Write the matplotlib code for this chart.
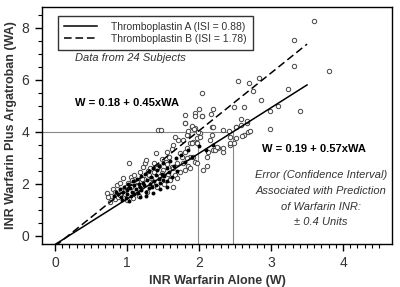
import numpy as np
import matplotlib.pyplot as plt
from matplotlib.ticker import FixedLocator

plt.rcParams.update({'font.family': ['Liberation Sans Narrow', 'Liberation Sans', 'DejaVu Sans']})

# --- DATA: W = warfarin alone, WA = warfarin + argatroban ---
open_w = [0.72, 0.76, 0.78, 0.80, 0.84, 0.86, 0.88, 0.90, 0.92, 0.95, 0.97, 1.00, 1.01, 1.03,
          1.05, 1.06, 1.08, 1.10, 1.12, 1.14, 1.16, 1.18, 1.20, 1.22, 1.24, 1.25, 1.27, 1.28,
          1.30, 1.32, 1.35, 1.37, 1.38, 1.40, 1.42, 1.44, 1.46, 1.48, 1.50, 1.52, 1.54, 1.55,
          1.57, 1.58, 1.60, 1.62, 1.63, 1.43, 1.47,
          1.64, 1.71, 1.78, 1.88, 1.92, 1.97, 2.01, 1.67, 1.85, 1.74, 1.81, 1.83, 1.76, 1.88,
          1.92, 1.94, 1.97, 1.85, 1.81, 1.74, 1.69, 1.64, 1.67, 1.60, 1.64, 1.69, 2.11, 2.06,
          2.13, 2.20, 2.34, 2.43, 2.48, 2.27,
          1.81, 1.83, 1.90, 1.94, 1.99, 2.01, 2.18, 2.18, 2.15, 2.34, 2.41, 2.52, 2.59, 2.66,
          2.62, 2.68, 2.51, 2.43, 2.34, 2.22, 2.25, 2.11, 1.88, 1.83, 1.78, 1.90, 1.97, 1.81,
          1.94, 2.04,
          2.04, 2.00, 2.20, 2.17, 1.94, 2.04, 1.81, 1.90, 1.93, 2.19, 1.85,
          3.59, 3.32, 3.32, 3.80, 2.54, 2.69, 2.83, 2.75, 3.24, 2.86, 2.49, 2.62, 3.10, 2.98,
          3.40, 2.59, 2.67, 2.52, 2.98, 2.71, 2.60, 2.43,
          0.74, 0.83, 0.91, 0.99, 1.07, 1.13, 1.21, 1.29, 1.34, 1.41, 1.49, 1.56]
open_wa = [1.65, 1.32, 1.55, 1.80, 1.42, 1.95, 1.50, 2.05, 1.75, 2.22, 1.60, 1.38, 2.05, 2.82,
           1.90, 2.25, 1.45, 2.35, 1.70, 2.10, 1.55, 2.45, 1.95, 2.65, 2.20, 2.79, 2.92, 1.70,
           2.35, 2.60, 2.05, 2.82, 2.45, 3.18, 1.90, 2.70, 2.30, 2.95, 2.55, 2.00, 2.85, 3.24,
           2.40, 3.05, 2.20, 2.65, 3.35, 4.06, 4.06,
           3.50, 3.69, 3.69, 3.56, 3.63, 3.76, 3.95, 3.82, 3.88, 3.18, 3.24, 3.37, 3.05, 3.05,
           3.05, 2.86, 2.80, 2.67, 2.54, 2.47, 2.80, 2.60, 2.35, 2.15, 1.90, 2.22, 2.67, 2.54,
           3.24, 3.31, 3.24, 3.50, 3.56, 3.37,
           4.33, 3.88, 4.20, 4.14, 4.01, 3.82, 4.20, 3.88, 3.69, 4.08, 4.05, 4.20, 4.27, 4.33,
           3.88, 4.01, 3.76, 3.56, 3.37, 3.31, 3.43, 3.05, 2.60, 2.99, 2.80, 3.56, 3.56, 4.65,
           4.72, 4.62,
           5.49, 4.87, 4.87, 4.69, 4.62, 4.62, 4.36, 4.23, 4.12, 4.20, 4.05,
           8.28, 7.54, 6.54, 6.36, 5.94, 5.87, 6.06, 5.59, 5.64, 5.23, 4.97, 4.94, 5.01, 4.81,
           4.81, 4.49, 4.42, 4.18, 4.12, 4.05, 3.85, 3.79,
           1.48, 1.68, 1.58, 1.88, 2.15, 1.92, 2.18, 2.48, 2.22, 2.62, 2.42, 2.75]

filled_w = [0.82, 0.85, 0.88, 0.90, 0.92, 0.95, 0.96, 0.98, 1.00, 1.00, 1.02, 1.04, 1.05, 1.07,
            1.08, 1.10, 1.10, 1.12, 1.14, 1.15, 1.16, 1.18, 1.20, 1.20, 1.22, 1.24, 1.25, 1.26,
            1.28, 1.30, 1.30, 1.32, 1.34, 1.35, 1.36, 1.38, 1.40, 1.40, 1.42, 1.44, 1.45, 1.46,
            1.48, 1.50, 1.50, 1.52, 1.55, 1.56, 1.58, 1.60, 1.62, 1.65, 1.68, 1.70, 1.75, 1.80,
            1.85, 1.90, 2.00, 2.10, 2.20, 0.93, 1.03, 1.18, 1.27, 1.36, 1.46, 1.55]
filled_wa = [1.55, 1.70, 1.62, 1.80, 1.50, 1.68, 1.90, 1.45, 1.75, 1.60, 2.00, 1.85, 1.52, 1.70,
             2.10, 1.95, 1.60, 1.80, 2.20, 1.65, 2.00, 1.88, 2.30, 1.75, 2.05, 1.95, 2.40, 1.70,
             2.15, 1.85, 2.50, 2.00, 2.25, 1.90, 2.60, 2.10, 2.35, 1.95, 2.55, 2.20, 2.70, 2.05,
             2.40, 2.15, 2.80, 2.30, 2.60, 2.10, 2.45, 2.90, 2.25, 2.70, 3.00, 2.50, 3.10, 2.85,
             3.30, 3.05, 3.45, 3.30, 3.50, 1.40, 1.35, 1.50, 1.55, 1.65, 1.80, 1.90]

# regression fits W = a + b*WA  (thromboplastin A solid, B dashed)
fit_a = (0.19, 0.57)
fit_b = (0.18, 0.45)
fit_w_range = [0.0, 3.5]

text_col = '#333333'

fig = plt.figure(figsize=(4.0, 2.87), dpi=100)
ax = fig.add_axes([0.105, 0.150, 0.875, 0.826])

# reference lines at WA = 4
w_at4_a = fit_a[0] + fit_a[1] * 4
w_at4_b = fit_b[0] + fit_b[1] * 4
ax.plot([-0.2, w_at4_a], [4, 4], color='#888888', lw=0.8, zorder=1)
ax.plot([w_at4_b, w_at4_b], [-1, 4], color='#888888', lw=0.8, zorder=1)
ax.plot([w_at4_a, w_at4_a], [-1, 4], color='#888888', lw=0.8, zorder=1)

ax.scatter(open_w, open_wa, s=10, facecolors='white', edgecolors='#444444', linewidths=0.7, zorder=2)
ax.scatter(filled_w, filled_wa, s=8, color='black', linewidths=0, zorder=3)

w = np.array(fit_w_range)
ax.plot(w, (w - fit_a[0]) / fit_a[1], color='black', lw=1.1, zorder=4,
        label='Thromboplastin A (ISI = 0.88)')
ax.plot(w, (w - fit_b[0]) / fit_b[1], color='black', lw=1.1, ls=(0, (5, 2.5)), zorder=4,
        label='Thromboplastin B (ISI = 1.78)')

ax.set_xlim(-0.18, 4.68)
ax.set_ylim(-0.31, 8.81)

ax.xaxis.set_major_locator(FixedLocator([0, 1, 2, 3, 4]))
ax.xaxis.set_minor_locator(FixedLocator(np.arange(0, 4.51, 0.1)))
ax.yaxis.set_major_locator(FixedLocator([0, 2, 4, 6, 8]))
ax.yaxis.set_minor_locator(FixedLocator(np.arange(0, 8.51, 0.5)))
ax.tick_params(which='major', direction='out', length=5, width=1, labelsize=10, colors='black',
               labelcolor=text_col, pad=4)
ax.tick_params(which='minor', direction='out', length=3, width=0.8)
for s in ax.spines.values():
    s.set_linewidth(1.0)

ax.set_xlabel('INR Warfarin Alone (W)', fontsize=9, fontweight='bold', color=text_col, labelpad=3)
ax.set_ylabel('INR Warfarin Plus Argatroban (WA)', fontsize=9, fontweight='bold', color=text_col,
              labelpad=3)

leg = ax.legend(loc='upper left', bbox_to_anchor=(0.03, 0.985), fontsize=7.5, frameon=True,
                fancybox=False, edgecolor='black', handlelength=3.2, borderpad=0.6,
                labelspacing=0.2, handletextpad=1.3)
leg.get_frame().set_linewidth(1.0)
for t in leg.get_texts():
    t.set_color(text_col)

ax.text(0.28, 6.85, 'Data from 24 Subjects', fontsize=8, style='italic', color=text_col,
        va='center', ha='left')
ax.text(0.28, 5.12, 'W = 0.18 + 0.45xWA', fontsize=8, fontweight='bold', color='black',
        va='center', ha='left')
ax.text(2.87, 3.35, 'W = 0.19 + 0.57xWA', fontsize=8, fontweight='bold', color='black',
        va='center', ha='left')
ax.text(3.69, 1.43, 'Error (Confidence Interval)\nAssociated with Prediction\nof Warfarin INR:\n± 0.4 Units',
        fontsize=8, style='italic', color=text_col, va='center', ha='center', linespacing=1.7)

fig.savefig('out.png', dpi=100)
